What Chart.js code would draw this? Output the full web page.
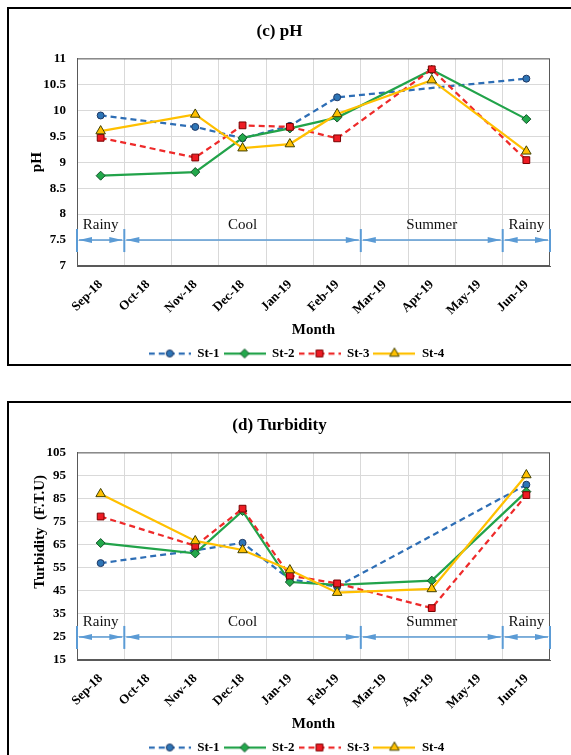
<!DOCTYPE html>
<html lang="en">
<head>
  <meta charset="UTF-8" />
  <title>pH and Turbidity</title>
  <script src="https://cdn.jsdelivr.net/npm/chart.js"></script>
  <style>
    body {
      margin: 0;
      background: #fff;
      width: 571px;
      height: 755px;
      overflow: hidden;
    }
    .panel {
      position: absolute;
      left: 7px;
      width: 600px;
      height: 355px;
      border: 2px solid #000;
      overflow: hidden;
      background: #fff;
    }
    #p1 { top: 7px; }
    #p2 { top: 401px; }
    canvas { display: block; }
  </style>
</head>
<body>
  <div class="panel" id="p1"><canvas id="ph" width="562" height="361"></canvas></div>
  <div class="panel" id="p2"><canvas id="turb" width="562" height="361"></canvas></div>
  <script>
  const months = ["Sep-18", "Oct-18", "Nov-18", "Dec-18", "Jan-19", "Feb-19", "Mar-19", "Apr-19", "May-19", "Jun-19"];
  const stations = ["St-1", "St-2", "St-3", "St-4"];

  // pH
  const phSt1 = [9.9, null, 9.68, 9.46, 9.7, 10.25, null, null, null, 10.61];
  const phSt2 = [8.74, null, 8.81, 9.47, 9.65, 9.86, null, 10.78, null, 9.83];
  const phSt3 = [9.47, null, 9.09, 9.71, 9.68, 9.46, null, 10.79, null, 9.04];
  const phSt4 = [9.6, null, 9.92, 9.27, 9.35, 9.93, null, 10.58, null, 9.21];

  // Turbidity (F.T.U)
  const tbSt1 = [57, null, 62.5, 65.8, 50, 46.8, null, null, null, 91];
  const tbSt2 = [65.7, null, 61.2, 79.6, 48.8, 47.6, null, 49.4, null, 88];
  const tbSt3 = [77.2, null, 64.5, 80.6, 51.6, 48.2, null, 37.5, null, 86.5];
  const tbSt4 = [87, null, 66.6, 62.7, 54, 44.2, null, 45.8, null, 95.2];

  // seasons: boundary indexes (between months)
  const seasonNames = ["Rainy", "Cool", "Summer", "Rainy"];
  const seasonStart = [0, 1, 6, 9];
  const seasonEnd = [1, 6, 9, 10];

  Chart.defaults.font.family = "'Liberation Serif', 'Times New Roman', serif";
  Chart.defaults.color = "#000";

  const looks = [
    { color: "#2e6eb5", dash: [6, 4], style: "circle", radius: 3.5, fill: "#2e75b6", edge: "#1f3864" },
    { color: "#22a34a", dash: [], style: "rectRot", radius: 4.5, fill: "#22a84b", edge: "#14532a" },
    { color: "#ee2a2a", dash: [6, 4], style: "rect", radius: 4.8, fill: "#ee1c24", edge: "#7a0000" },
    { color: "#ffc000", dash: [], style: "triangle", radius: 5.5, fill: "#ffc000", edge: "#404000" }
  ];

  // small line+marker picture for the legend
  function sample(lk) {
    const c = document.createElement("canvas");
    c.width = 42;
    c.height = 14;
    const g = c.getContext("2d");
    g.strokeStyle = lk.color;
    g.lineWidth = 2.25;
    g.setLineDash(lk.dash);
    g.beginPath();
    g.moveTo(0, 7);
    g.lineTo(42, 7);
    g.stroke();
    g.setLineDash([]);
    g.fillStyle = lk.fill;
    g.strokeStyle = lk.edge;
    g.lineWidth = 1;
    Chart.helpers.drawPoint(g, { pointStyle: lk.style, radius: lk.radius, borderWidth: 1, rotation: 0 }, 21, 7);
    return c;
  }

  const seasonPlugin = {
    id: "seasons",
    afterLayout(chart) {
      // legend sits a bit right of centre in the original
      chart.legend.left += 34;
    },
    beforeDatasetsDraw(chart, args, o) {
      const { ctx, chartArea: a, scales: { x, y } } = chart;
      const edge = i => i <= 0 ? a.left : i >= months.length ? a.right
        : (x.getPixelForValue(i - 1) + x.getPixelForValue(i)) / 2;
      ctx.save();
      // plot frame
      ctx.strokeStyle = "#595959";
      ctx.lineWidth = 1;
      ctx.strokeRect(a.left + 0.5, a.top + 0.5, a.width - 1, a.height - 1);

      const yy = y.getPixelForValue(o.level);
      ctx.strokeStyle = "#5b9bd5";
      ctx.fillStyle = "#5b9bd5";
      seasonNames.forEach((name, k) => {
        const x0 = edge(seasonStart[k]), x1 = edge(seasonEnd[k]);
        ctx.lineWidth = 1.5;
        ctx.beginPath();
        ctx.moveTo(x0 + 2, yy);
        ctx.lineTo(x1 - 2, yy);
        ctx.stroke();
        ctx.beginPath();
        ctx.moveTo(x0 + 2, yy);
        ctx.lineTo(x0 + 15, yy - 3);
        ctx.lineTo(x0 + 15, yy + 3);
        ctx.closePath();
        ctx.fill();
        ctx.beginPath();
        ctx.moveTo(x1 - 2, yy);
        ctx.lineTo(x1 - 15, yy - 3);
        ctx.lineTo(x1 - 15, yy + 3);
        ctx.closePath();
        ctx.fill();
      });
      // separators
      ctx.lineWidth = 2;
      [0].concat(seasonEnd).forEach(i => {
        const px = edge(i);
        ctx.beginPath();
        ctx.moveTo(px, yy - 11);
        ctx.lineTo(px, yy + 12);
        ctx.stroke();
      });
      // names
      ctx.fillStyle = "#111";
      ctx.font = "15px 'Liberation Serif', serif";
      ctx.textAlign = "center";
      ctx.textBaseline = "middle";
      seasonNames.forEach((name, k) => {
        ctx.fillText(name, (edge(seasonStart[k]) + edge(seasonEnd[k])) / 2, yy - 15);
      });
      ctx.restore();
    }
  };

  function makeChart(id, title, yTitle, yTitlePad, yMin, yMax, yStep, level, series) {
    return new Chart(document.getElementById(id), {
      type: "line",
      data: {
        labels: months,
        datasets: series.map((vals, i) => ({
          label: stations[i],
          data: vals,
          order: 4 - i,
          spanGaps: true,
          borderColor: looks[i].color,
          borderWidth: 2.25,
          borderDash: looks[i].dash,
          fill: false,
          tension: 0,
          pointStyle: looks[i].style,
          pointRadius: looks[i].radius,
          pointBackgroundColor: looks[i].fill,
          pointBorderColor: looks[i].edge,
          pointBorderWidth: 1
        }))
      },
      options: {
        responsive: false,
        animation: false,
        devicePixelRatio: 1,
        layout: { padding: { right: 21 } },
        plugins: {
          title: {
            display: true,
            text: title,
            font: { size: 17, weight: "bold" },
            color: "#000",
            padding: { top: 12, bottom: 17 }
          },
          legend: {
            position: "bottom",
            labels: {
              usePointStyle: true,
              pointStyleWidth: 42,
              padding: 4,
              color: "#000",
              font: { size: 13, weight: "bold" },
              generateLabels: chart => chart.data.datasets.map((ds, i) => ({
                text: ds.label,
                pointStyle: sample(looks[i]),
                fillStyle: "transparent",
                strokeStyle: "transparent",
                lineWidth: 0,
                hidden: false,
                datasetIndex: i,
                fontColor: "#000"
              }))
            }
          },
          tooltip: { enabled: false },
          seasons: { level: level }
        },
        scales: {
          x: {
            offset: true,
            grid: { offset: true, color: "#d9d9d9", drawTicks: false },
            border: { color: "#595959" },
            ticks: {
              autoSkip: false,
              minRotation: 45,
              maxRotation: 45,
              padding: 11,
              color: "#000",
              font: { size: 13, weight: "bold" }
            },
            title: {
              display: true,
              text: "Month",
              color: "#000",
              font: { size: 15, weight: "bold" },
              padding: { top: 0, bottom: 4 }
            },
            afterFit: s => { s.height = 77; }
          },
          y: {
            min: yMin,
            max: yMax,
            grid: { color: "#d9d9d9", drawTicks: false },
            border: { color: "#595959" },
            ticks: {
              stepSize: yStep,
              padding: 11,
              color: "#000",
              font: { size: 13, weight: "bold" },
              callback: v => String(+v.toFixed(1))
            },
            title: {
              display: true,
              text: yTitle,
              color: "#000",
              font: { size: 15, weight: "bold" },
              padding: { top: yTitlePad, bottom: 0 }
            },
            afterFit: s => { s.width = 68; }
          }
        }
      },
      plugins: [seasonPlugin]
    });
  }

  makeChart("ph", "(c) pH", "pH", 19, 7, 11, 0.5, 7.5, [phSt1, phSt2, phSt3, phSt4]);
  // leading spaces lift the title as in the original
  makeChart("turb", "(d) Turbidity", "             Turbidity  (F.T.U)", 22, 15, 105, 10, 25, [tbSt1, tbSt2, tbSt3, tbSt4]);
  </script>
</body>
</html>
